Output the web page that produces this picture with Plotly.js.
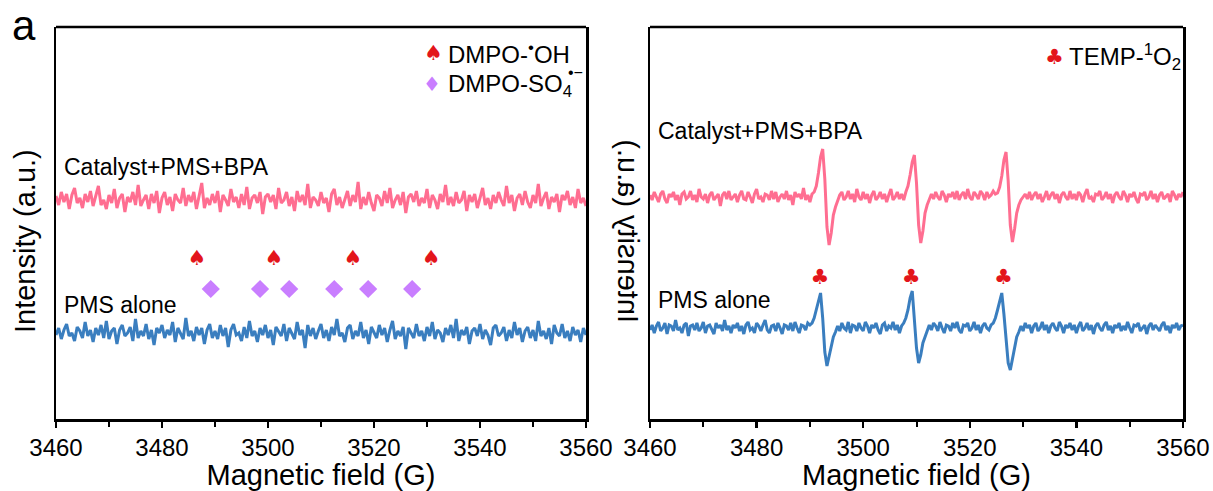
<!DOCTYPE html>
<html>
<head>
<meta charset="utf-8">
<script src="https://cdn.plot.ly/plotly-3.0.1.min.js"></script>
<style>html,body{margin:0;padding:0;background:#fff;}#chart{width:1213px;height:491px;}</style>
</head>
<body>
<div id="chart"></div>
<script>
// ---------- DATA ----------
const fieldStart = 3460;
const leftStep = 0.5;   // G per point, left panel (DMPO)
const rightStep = 0.4;  // G per point, right panel (TEMP)

// stacking offsets (a.u.)
const offsetCatalyst = 219;
const offsetPMS = 86;
const offsetCatalystTemp = 222;
const offsetPMSTemp = 91;

// Left panel: DMPO spectra (deviation from baseline, a.u.)
const dmpoCatalyst = [
 4,-5,8,-2,6,-9,5,12,-3,2,-8,6,-2,9,-6,3,14,-5,0,-9,
 5,-3,11,-8,2,6,-12,3,-2,8,-5,15,-6,0,5,-9,6,-3,9,-13,
 2,8,-5,3,-11,6,0,-3,12,-6,5,-2,8,-9,3,17,-8,2,-5,6,
 -3,9,-12,5,0,-6,11,-2,3,-8,6,-5,13,-9,2,5,-3,8,-14,3,
 6,-2,5,-9,12,-3,0,8,-6,3,-11,9,-2,5,-5,16,-8,3,0,-6,
 8,-3,2,-12,6,11,-5,3,-8,0,9,-6,5,-2,18,-9,3,-5,8,-3,
 -11,5,2,-6,9,-3,12,-8,0,5,-5,8,-13,3,6,-2,9,-6,2,-3,
 11,-8,5,0,-9,6,-2,15,-5,3,-6,8,-3,0,9,-11,5,-2,6,-8,
 3,12,-5,2,-9,5,-3,8,0,-6,14,-3,5,-11,2,6,-5,9,-2,-8,
 5,-3,16,-6,2,8,-9,3,-2,6,-12,5,0,9,-5,3,-8,11,-3,2,
 -6];
const dmpoPMS = [
 -2,5,-6,3,9,-3,0,-8,6,2,-5,11,-3,3,-9,5,-2,8,-5,12,
 -6,2,5,-11,3,8,-3,0,6,-8,14,-5,2,-3,9,-6,3,-12,5,0,
 8,-5,3,-2,11,-9,5,0,-6,15,-3,2,-8,6,-2,5,-11,3,9,-5,
 2,-6,8,-3,5,-14,3,9,-2,0,-8,6,-5,12,-3,2,-9,5,-2,8,
 -5,3,-12,6,2,-3,9,-8,5,0,-6,11,-2,3,-15,8,-3,5,-6,2,
 9,-5,3,-8,6,-2,14,-3,0,-9,5,8,-6,2,-3,11,-5,3,-11,6,
 0,-5,8,-2,5,-9,3,12,-6,2,-3,6,-16,5,0,-5,9,-3,2,-8,
 6,-3,11,-6,3,0,-9,5,-2,8,-5,14,-8,3,-2,6,-11,2,5,-3,
 9,-6,3,-2,-12,5,8,-3,0,6,-8,3,-5,11,-2,5,-9,2,6,-5,
 3,-8,12,-3,2,-6,5,-11,8,0,-3,9,-5,2,-8,6,-2,3,-9,5,
 -2];

// Right panel: TEMP spectra (deviation from baseline, a.u.)
const tempCatalyst = [
 2,-3,5,0,-5,3,6,-2,-6,3,0,5,-3,2,-8,3,5,-2,0,6,
 -3,2,-5,8,0,-2,3,-6,2,5,-3,0,3,-9,2,5,-2,6,-3,0,
 3,-5,2,6,-2,-3,5,0,-6,3,8,-2,0,-5,3,2,-3,6,-2,5,
 -5,0,3,-2,6,-3,2,-8,5,0,3,-2,9,-3,2,-5,3,5,11,24,
 40,48,18,-30,-48,-36,-18,-10,-4,2,5,-3,0,6,-2,3,-5,8,0,-3,
 5,-2,3,-6,2,6,-3,0,5,-2,3,-5,2,8,-3,0,5,-2,3,-3,
 5,11,22,35,42,14,-28,-46,-34,-16,-8,-3,3,-2,5,0,-3,6,2,-5,
 3,0,5,-2,6,-3,2,5,-2,8,0,-3,5,2,-2,6,3,-3,5,0,
 2,6,3,4,10,21,37,45,16,-28,-45,-32,-16,-8,-3,0,3,-2,5,-3,
 2,5,-2,3,-5,0,6,-3,2,5,-2,3,-6,2,5,0,-3,6,-2,3,
 -3,5,2,-5,3,8,-2,0,-5,3,2,6,-3,0,5,-2,3,-6,2,5,
 0,-3,6,2,-5,3,0,5,-2,-6,3,2,5,-3,0,6,-2,3,-5,2,
 5,-2,0,3,-5,6,2,-3,3,0,5];
const tempPMS = [
 -2,3,-5,2,6,-3,0,5,-6,3,2,-3,8,-2,0,-5,3,5,-8,2,
 3,-2,5,-3,0,6,-5,2,3,-2,-6,5,0,3,-3,8,-2,2,-5,3,
 0,5,-3,2,-6,3,6,-2,0,-5,5,2,-3,3,8,-2,-5,2,3,-3,
 5,0,-6,3,2,-2,5,-3,6,0,-5,3,2,-2,5,3,5,10,18,28,
 35,10,-24,-38,-28,-16,-9,-4,2,-3,5,0,-2,6,-5,3,2,-3,5,0,
 -3,6,2,-5,3,0,5,-2,-6,3,5,-3,2,0,6,-2,3,-5,2,5,
 10,18,30,37,12,-20,-35,-27,-15,-8,-3,3,-2,5,2,-3,6,0,-5,3,
 2,-3,5,0,6,-2,-5,3,2,5,-3,0,6,-2,3,-5,2,5,0,-2,
 3,5,10,18,28,35,14,-14,-35,-42,-30,-17,-9,-4,2,-3,5,0,3,-5,
 2,5,-3,0,6,-2,3,-5,2,5,0,-3,6,2,-5,3,0,5,-2,3,
 -5,2,6,-3,0,5,-2,3,-6,2,5,0,-3,3,6,-2,2,-5,3,0,
 5,-3,2,-2,6,0,-5,3,2,5,-3,0,3,-6,2,5,-2,3,0,-3,
 3,6,-2,2,-5,3,0,5,-2,2,3];

// Marker positions (G) and heights (a.u.)
const ohFields = [3486.6, 3501.1, 3516.0, 3530.8];
const ohLevel = 159;
const so4Fields = [3489.2, 3498.5, 3504.0, 3512.5, 3518.9, 3527.2];
const so4Level = 130;
const o2Fields = [3491.9, 3509.0, 3526.3];
const o2Level = 140;

const xMajorTicks = [3460, 3480, 3500, 3520, 3540, 3560];
const xMinorStep = 10;
const seriesLabels = ["Catalyst+PMS+BPA", "PMS alone"];

// ---------- STYLE ----------
const W = 1213, H = 491, TOP = 27, BOT = 419;
const pink = '#FF6E91', blue = '#3A7EBF', red = '#E3151B', violet = '#C97EFF';
const FONT = 'Liberation Sans, Arial, sans-serif';
const SYM = 'DejaVu Sans, sans-serif';
const px = v => v / W;
const py = v => (BOT - v) / (BOT - TOP);

const fieldAxis = (n, step) => Array.from({length: n}, (_, i) => +(fieldStart + i * step).toFixed(2));
const leftX = fieldAxis(dmpoCatalyst.length, leftStep);
const rightX = fieldAxis(tempCatalyst.length, rightStep);
const shift = (arr, off) => arr.map(v => v + off);

const line = (x, y, color, xa, ya) => ({
  x, y, type: 'scatter', mode: 'lines', xaxis: xa, yaxis: ya,
  line: {color, width: 3}, hoverinfo: 'skip', showlegend: false
});

const traces = [
  line(leftX, shift(dmpoCatalyst, offsetCatalyst), pink, 'x', 'y'),
  line(leftX, shift(dmpoPMS, offsetPMS), blue, 'x', 'y'),
  line(rightX, shift(tempCatalyst, offsetCatalystTemp), pink, 'x2', 'y2'),
  line(rightX, shift(tempPMS, offsetPMSTemp), blue, 'x2', 'y2'),
  {x: ohFields, y: ohFields.map(() => ohLevel), type: 'scatter', mode: 'text',
   text: ohFields.map(() => '♠'), textfont: {family: SYM, size: 21, color: red},
   textposition: 'middle center', xaxis: 'x', yaxis: 'y', showlegend: false, hoverinfo: 'skip'},
  {x: so4Fields, y: so4Fields.map(() => so4Level), type: 'scatter', mode: 'markers',
   marker: {symbol: 'diamond', size: 14, color: violet}, xaxis: 'x', yaxis: 'y', showlegend: false, hoverinfo: 'skip'},
  {x: o2Fields, y: o2Fields.map(() => o2Level), type: 'scatter', mode: 'text',
   text: o2Fields.map(() => '♣'), textfont: {family: SYM, size: 21, color: red},
   textposition: 'middle center', xaxis: 'x2', yaxis: 'y2', showlegend: false, hoverinfo: 'skip'}
];

const xAxisBase = (domain, anchor) => ({
  domain, anchor, range: [3460, 3560],
  tickmode: 'array', tickvals: xMajorTicks, ticktext: xMajorTicks.map(String),
  ticks: 'outside', ticklen: 6, tickwidth: 2.5, tickcolor: '#000',
  minor: {tick0: 3460, dtick: xMinorStep, ticks: 'outside', ticklen: 5, tickwidth: 2, tickcolor: '#000', showgrid: false},
  showline: true, linewidth: 2.5, linecolor: '#000', mirror: false,
  showgrid: false, zeroline: false,
  tickfont: {family: FONT, size: 24, color: '#000'},
  title: {text: 'Magnetic field (G)', font: {family: FONT, size: 29, color: '#000'}, standoff: 12}
});
const yAxisBase = (anchor) => ({
  anchor, domain: [0, 1], range: [0, BOT - TOP], showticklabels: false, ticks: '',
  showline: true, linewidth: 2.5, linecolor: '#000', mirror: true,
  showgrid: false, zeroline: false
});

const topBorder = (xa, ya) => ({
  type: 'line', xref: xa + ' domain', yref: ya + ' domain', x0: 0, x1: 1, y0: 1, y1: 1,
  line: {color: '#000', width: 2.5}
});

const ann = (text, x, y, opts = {}) => Object.assign({
  text, x, y, xref: 'paper', yref: 'paper', showarrow: false,
  xanchor: 'left', yanchor: 'middle',
  font: {family: FONT, size: 23, color: '#000'}
}, opts);

const annotations = [
  ann('a', px(24), py(25), {xanchor: 'center', font: {family: FONT, size: 42, color: '#000'}}),
  ann('Intensity (a.u.)', px(25), py(241), {xanchor: 'center', textangle: -90, font: {family: FONT, size: 29, color: '#000'}}),
  ann('Intensity (a.u.)', px(628), py(231), {xanchor: 'center', textangle: -90, font: {family: FONT, size: 29, color: '#000'}}),
  ann(seriesLabels[0], px(62), py(167)),
  ann(seriesLabels[1], px(62), py(305)),
  ann(seriesLabels[0], px(656), py(131)),
  ann(seriesLabels[1], px(656), py(300)),
  // legend left
  ann('♠', px(433), py(53), {xanchor: 'center', font: {family: SYM, size: 21, color: red}}),
  ann('DMPO-<sup>•</sup>OH', px(446), py(53), {font: {family: FONT, size: 24, color: '#000'}}),
  ann('♦', px(432), py(84), {xanchor: 'center', font: {family: SYM, size: 20, color: violet}}),
  ann('DMPO-SO<sub>4</sub>', px(446), py(86), {font: {family: FONT, size: 24, color: '#000'}}),
  ann('•−', px(566), py(72), {font: {family: FONT, size: 16, color: '#000'}}),
  // legend right
  ann('♣', px(1054), py(57), {xanchor: 'center', font: {family: SYM, size: 21, color: red}}),
  ann('TEMP-<sup>1</sup>O<sub>2</sub>', px(1067), py(57), {font: {family: FONT, size: 24, color: '#000'}})
];
const mirroredIndex = 2;

const layout = {
  width: W, height: H,
  margin: {l: 0, r: 0, t: TOP, b: H - BOT, pad: 0},
  paper_bgcolor: '#fff', plot_bgcolor: '#fff',
  font: {family: FONT, color: '#000'},
  showlegend: false,
  xaxis: xAxisBase([px(56), px(586)], 'y'),
  yaxis: yAxisBase('x'),
  xaxis2: xAxisBase([px(650), px(1183)], 'y2'),
  yaxis2: yAxisBase('x2'),
  shapes: [topBorder('x', 'y'), topBorder('x2', 'y2')],
  annotations
};

Plotly.newPlot('chart', traces, layout, {displayModeBar: false, staticPlot: true}).then(gd => {
  const g = gd.querySelector('.annotation[data-index="' + mirroredIndex + '"]');
  if (g) {
    const bb = g.getBBox();
    const cx = bb.x + bb.width / 2;
    g.setAttribute('transform', 'translate(' + (2 * cx) + ',0) scale(-1,1)');
  }
});
</script>
</body>
</html>
